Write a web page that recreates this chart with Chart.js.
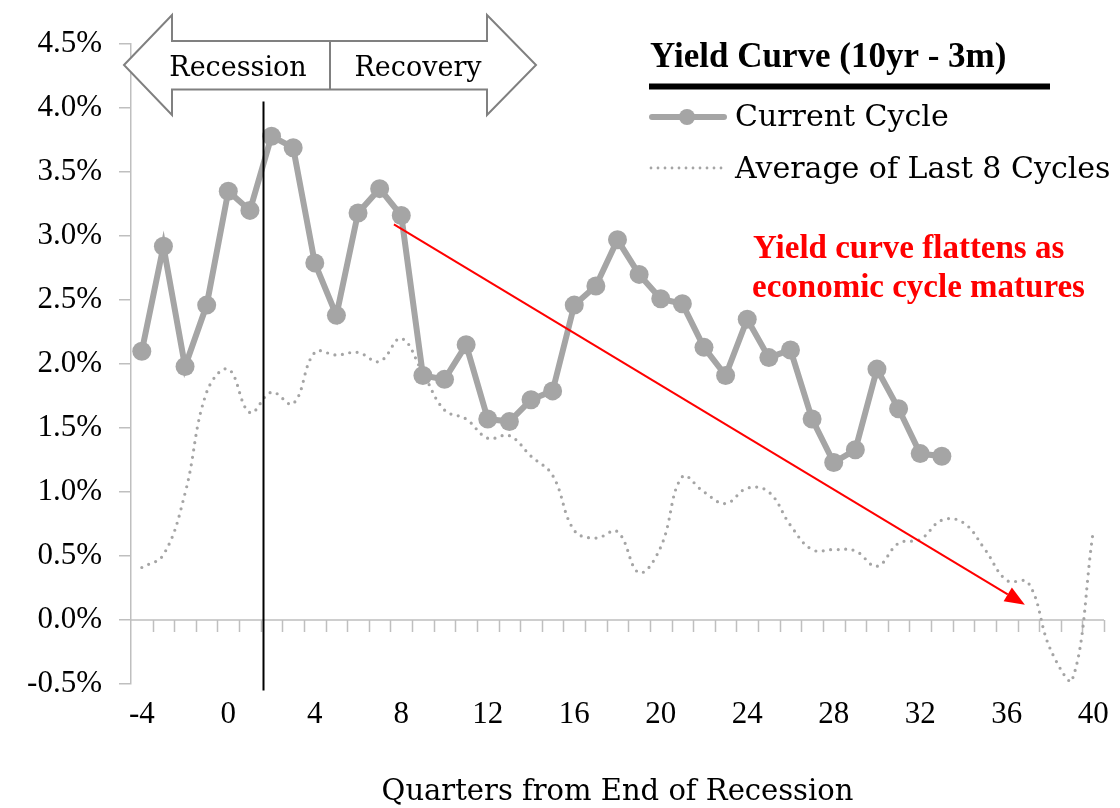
<!DOCTYPE html>
<html>
<head>
<meta charset="utf-8">
<script src="https://cdn.jsdelivr.net/npm/chart.js@4.4.1/dist/chart.umd.min.js"></script>
<style>
  html, body { margin: 0; padding: 0; background: #fff; }
  #wrap { width: 1120px; height: 808px; }
</style>
</head>
<body>
<div id="wrap"><canvas id="yieldChart" width="1120" height="808"></canvas></div>
<script>
// quarters from end of recession
var quarters = [-4, -3, -2, -1, 0, 1, 2, 3, 4, 5, 6, 7, 8, 9, 10, 11, 12, 13, 14, 15, 16, 17, 18, 19, 20,
    21, 22, 23, 24, 25, 26, 27, 28, 29, 30, 31, 32, 33, 34, 35, 36, 37, 38, 39, 40]

// 10yr - 3m spread, % (current cycle runs to quarter 33)
var currentCycle = [2.10, 2.92, 1.98, 2.46, 3.35, 3.20, 3.78, 3.69, 2.79, 2.38, 3.18, 3.37, 3.16, 1.91,
    1.88, 2.15, 1.57, 1.55, 1.72, 1.79, 2.46, 2.61, 2.97, 2.70, 2.51, 2.47, 2.13, 1.91, 2.35, 2.05,
    2.11, 1.57, 1.23, 1.33, 1.96, 1.65, 1.30, 1.28]

var avgLast8 = [0.41, 0.51, 0.99, 1.78, 1.96, 1.62, 1.78, 1.69, 2.09, 2.07, 2.09, 2.02, 2.20, 1.93,
    1.64, 1.57, 1.42, 1.44, 1.28, 1.13, 0.70, 0.64, 0.69, 0.37, 0.57, 1.12, 1.00, 0.91, 1.03, 1.00,
    0.74, 0.55, 0.55, 0.54, 0.42, 0.60, 0.63, 0.78, 0.76, 0.55, 0.31, 0.29, -0.22, -0.48, 0.69]

var xTickLabels = [-4, 0, 4, 8, 12, 16, 20, 24, 28, 32, 36, 40]

var GREY = '#A5A5A5'
var AXIS = '#BFBFBF'
var WORDS = 'DejaVu Serif'
var NUMS = 'Liberation Serif'

function toPoints(vals) {
    return vals.map(function (v, i) { return { x: quarters[i], y: v } })
}

// zero line with quarter tick marks, recession marker, trend arrow
var overlay = {
    id: 'overlay',
    beforeDatasetsDraw: function (chart) {
        var c = chart.ctx, xs = chart.scales.x, ys = chart.scales.y
        var y0 = ys.getPixelForValue(0)
        c.save()
        c.strokeStyle = AXIS
        c.lineWidth = 1.5
        c.beginPath()
        c.moveTo(chart.chartArea.left, y0)
        c.lineTo(chart.chartArea.right, y0)
        for (var q = -3.5; q <= 40.5; q++) {
            var px = Math.round(xs.getPixelForValue(q)) + 0.5
            c.moveTo(px, y0)
            c.lineTo(px, y0 + 12)
        }
        c.stroke()
        c.restore()
    },
    afterDatasetsDraw: function (chart) {
        var c = chart.ctx, xs = chart.scales.x, ys = chart.scales.y
        c.save()
        // end of recession marker
        var lx = Math.round(xs.getPixelForValue(1.6)) + 0.5
        c.strokeStyle = '#000'
        c.lineWidth = 2
        c.beginPath()
        c.moveTo(lx, ys.getPixelForValue(4.05))
        c.lineTo(lx, ys.getPixelForValue(-0.55))
        c.stroke()

        // trend arrow
        var x1 = xs.getPixelForValue(7.66), y1 = ys.getPixelForValue(3.09)
        var x2 = xs.getPixelForValue(36.84), y2 = ys.getPixelForValue(0.12)
        var ang = Math.atan2(y2 - y1, x2 - x1)
        var hl = 20, hw = 8
        var bx = x2 - hl * Math.cos(ang), by = y2 - hl * Math.sin(ang)
        c.strokeStyle = '#FF0000'
        c.fillStyle = '#FF0000'
        c.lineWidth = 2
        c.beginPath()
        c.moveTo(x1, y1)
        c.lineTo(bx, by)
        c.stroke()
        c.beginPath()
        c.moveTo(x2, y2)
        c.lineTo(bx + hw * Math.sin(ang), by - hw * Math.cos(ang))
        c.lineTo(bx - hw * Math.sin(ang), by + hw * Math.cos(ang))
        c.closePath()
        c.fill()
        c.restore()
    },
    afterDraw: function (chart) {
        var c = chart.ctx
        c.save()

        // Recession / Recovery double arrow
        c.beginPath()
        c.moveTo(124, 65)
        c.lineTo(172, 15)
        c.lineTo(172, 41)
        c.lineTo(487, 41)
        c.lineTo(487, 15)
        c.lineTo(536, 65)
        c.lineTo(487, 115)
        c.lineTo(487, 89.5)
        c.lineTo(172, 89.5)
        c.lineTo(172, 115)
        c.closePath()
        c.fillStyle = '#fff'
        c.fill()
        c.strokeStyle = '#808080'
        c.lineWidth = 2
        c.stroke()
        c.beginPath()
        c.moveTo(330, 41)
        c.lineTo(330, 89.5)
        c.stroke()
        c.fillStyle = '#000'
        c.font = '27px "' + WORDS + '"'
        c.textAlign = 'center'
        c.textBaseline = 'alphabetic'
        c.fillText('Recession', 238, 76)
        c.fillText('Recovery', 418, 76)

        // legend block
        c.textAlign = 'left'
        c.font = 'bold 35px "' + NUMS + '"'
        c.fillText('Yield Curve (10yr - 3m)', 650, 67)
        c.fillRect(649, 83.5, 401, 6)

        c.strokeStyle = GREY
        c.fillStyle = GREY
        c.lineCap = 'round'
        c.lineWidth = 6
        c.beginPath()
        c.moveTo(652, 117)
        c.lineTo(724, 117)
        c.stroke()
        c.beginPath()
        c.arc(687, 117, 8, 0, Math.PI * 2)
        c.fill()

        c.lineWidth = 2.8
        c.setLineDash([0, 7])
        c.beginPath()
        c.moveTo(651, 168)
        c.lineTo(726, 168)
        c.stroke()
        c.setLineDash([])

        c.fillStyle = '#000'
        c.font = '30px "' + WORDS + '"'
        c.fillText('Current Cycle', 735, 126)
        c.fillText('Average of Last 8 Cycles', 735, 178)

        // note
        c.fillStyle = '#FF0000'
        c.font = 'bold 33px "' + NUMS + '"'
        c.fillText('Yield curve flattens as', 753, 258)
        c.fillText('economic cycle matures', 752, 297)
        c.restore()
    }
}

var ctx = document.getElementById('yieldChart').getContext('2d')

var yieldChart = new Chart(ctx, {
    type: 'line',
    data: {
        datasets: [
            {
                label: 'Current Cycle',
                data: toPoints(currentCycle),
                borderColor: GREY,
                backgroundColor: GREY,
                borderWidth: 6,
                pointRadius: 9.5,
                pointHoverRadius: 9.5,
                pointBorderWidth: 0,
                tension: 0
            },
            {
                label: 'Average of Last 8 Cycles',
                data: toPoints(avgLast8),
                borderColor: GREY,
                borderWidth: 3.2,
                borderDash: [0, 7.5],
                borderCapStyle: 'round',
                pointRadius: 0,
                tension: 0.4
            }
        ]
    },
    options: {
        responsive: false,
        animation: false,
        layout: { padding: { top: 44, right: 16, left: 0, bottom: 0 } },
        plugins: {
            legend: { display: false },
            tooltip: { enabled: false }
        },
        scales: {
            x: {
                type: 'linear',
                min: -4.5,
                max: 40.5,
                afterBuildTicks: function (s) {
                    s.ticks = xTickLabels.map(function (v) { return { value: v } })
                },
                afterFit: function (s) { s.height = 124 },
                grid: { display: false },
                border: { display: false },
                ticks: {
                    autoSkip: false,
                    maxRotation: 0,
                    padding: 4,
                    color: '#000',
                    font: { family: NUMS, size: 31 }
                },
                title: {
                    display: true,
                    text: 'Quarters from End of Recession',
                    color: '#000',
                    font: { family: WORDS, size: 29 },
                    padding: { top: 0, bottom: -2 }
                }
            },
            y: {
                min: -0.5,
                max: 4.5,
                afterFit: function (s) { s.width = 131 },
                ticks: {
                    stepSize: 0.5,
                    padding: 17,
                    color: '#000',
                    font: { family: NUMS, size: 31 },
                    callback: function (v) { return v.toFixed(1) + '%' }
                },
                grid: { drawOnChartArea: false, tickLength: 12, color: AXIS, lineWidth: 1.5 },
                border: { color: AXIS, width: 1.5 }
            }
        }
    },
    plugins: [overlay]
})
</script>
</body>
</html>
